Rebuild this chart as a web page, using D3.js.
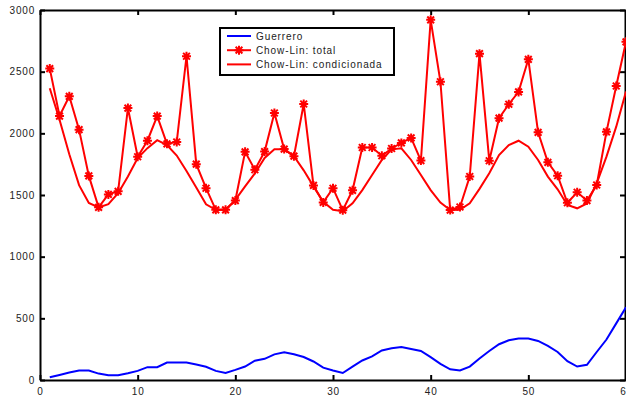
<!DOCTYPE html>
<html>
<head>
<meta charset="utf-8">
<script src="https://cdn.jsdelivr.net/npm/d3@7"></script>
<style>
  html, body { margin: 0; padding: 0; background: #fff; }
  text { font-family: "Liberation Sans", Arial, sans-serif; }
</style>
</head>
<body>
<figure id="chart" style="margin:0"></figure>
<script>
// periods 1..60
const periods = d3.range(1, 61);

const guerrero = [22, 41, 60, 77, 77, 52, 38, 38, 55, 74,
  104, 104, 142, 142, 142, 126, 107, 74, 57, 82,
  109, 156, 172, 208, 224, 208, 186, 150, 100, 77,
  57, 109, 158, 191, 240, 257, 268, 251, 235, 186,
  131, 87, 77, 109, 175, 235, 290, 322, 336, 336,
  317, 276, 227, 153, 109, 123, 227, 328, 459, 590];

const chowLinTotal = [2525, 2140, 2300, 2030, 1655, 1400, 1505, 1530, 2205, 1810,
  1940, 2140, 1915, 1930, 2625, 1750, 1555, 1380, 1380, 1455,
  1850, 1705, 1852, 2165, 1872, 1815, 2238, 1578, 1440, 1555,
  1377, 1538, 1885, 1885, 1818, 1877, 1922, 1963, 1779, 2920,
  2418, 1378, 1403, 1650, 2646, 1778, 2123, 2236, 2336, 2600,
  2008, 1765, 1656, 1437, 1522, 1455, 1581, 2012, 2384, 2742];

const chowLinCond = [2365, 2110, 1830, 1580, 1435, 1400, 1425, 1515, 1650, 1800,
  1880, 1945, 1905, 1820, 1695, 1560, 1425, 1380, 1380, 1460,
  1570, 1675, 1800, 1870, 1870, 1815, 1700, 1570, 1445, 1380,
  1368, 1432, 1540, 1662, 1784, 1870, 1878, 1784, 1662, 1540,
  1438, 1378, 1380, 1432, 1550, 1676, 1824, 1905, 1940, 1892,
  1784, 1649, 1546, 1419, 1392, 1432, 1595, 1811, 2054, 2340];

const xTicks = [0, 10, 20, 30, 40, 50, 60];
const yTicks = [0, 500, 1000, 1500, 2000, 2500, 3000];
const legendLabels = ["Guerrero", "Chow-Lin: total", "Chow-Lin: condicionada"];

const W = 626, H = 399;
const margin = {top: 10, right: 0, bottom: 19, left: 40};
const width = W - margin.left - margin.right;
const height = H - margin.top - margin.bottom;

const svg = d3.select("figure#chart")
  .append("svg")
  .attr("width", W)
  .attr("height", H)
  .append("g")
  .attr("transform", "translate(" + margin.left + "," + margin.top + ")");

const x = d3.scaleLinear().domain([0, 60]).range([0, width]);
const y = d3.scaleLinear().domain([0, 3000]).range([height, 0]);

const tickLen = 5;
const fmt = d3.format("d");

function styleAxis(g) {
  g.select(".domain").attr("stroke", "#000").attr("stroke-width", 2);
  g.selectAll(".tick line").attr("stroke", "#000").attr("stroke-width", 2);
  g.selectAll(".tick text")
    .attr("fill", "#222")
    .style("font-size", "10px")
    .style("letter-spacing", "0.8px");
}

// bottom
svg.append("g")
  .attr("transform", "translate(0," + height + ")")
  .call(d3.axisBottom(x).tickValues(xTicks).tickFormat(fmt).tickSizeInner(-tickLen).tickSizeOuter(0).tickPadding(8))
  .call(styleAxis);
// top
svg.append("g")
  .call(d3.axisTop(x).tickValues(xTicks).tickSizeInner(-tickLen).tickSizeOuter(0).tickFormat(""))
  .call(styleAxis);
// left
svg.append("g")
  .call(d3.axisLeft(y).tickValues(yTicks).tickFormat(fmt).tickSizeInner(-tickLen).tickSizeOuter(0).tickPadding(5))
  .call(styleAxis);
// right
svg.append("g")
  .attr("transform", "translate(" + (width - 1) + ",0)")
  .call(d3.axisRight(y).tickValues(yTicks).tickSizeInner(-tickLen).tickSizeOuter(0).tickFormat(""))
  .call(styleAxis);

const line = d3.line()
  .x((d, i) => x(periods[i]))
  .y(d => y(d));

svg.append("path")
  .datum(guerrero)
  .attr("fill", "none")
  .attr("stroke", "#0000ff")
  .attr("stroke-width", 2)
  .attr("d", line);

svg.append("path")
  .datum(chowLinCond)
  .attr("fill", "none")
  .attr("stroke", "#ff0000")
  .attr("stroke-width", 2)
  .attr("d", line);

svg.append("path")
  .datum(chowLinTotal)
  .attr("fill", "none")
  .attr("stroke", "#ff0000")
  .attr("stroke-width", 2)
  .attr("d", line);

// asterisk marker: plus + cross
const mr = 4.5;
const md = mr * 0.75;
const starPath = "M0," + (-mr) + "V" + mr + "M" + (-mr) + ",0H" + mr +
  "M" + (-md) + "," + (-md) + "L" + md + "," + md +
  "M" + (-md) + "," + md + "L" + md + "," + (-md);

svg.append("g")
  .selectAll("path")
  .data(chowLinTotal)
  .join("path")
  .attr("transform", (d, i) => "translate(" + x(periods[i]) + "," + y(d) + ")")
  .attr("d", starPath)
  .attr("fill", "none")
  .attr("stroke", "#ff0000")
  .attr("stroke-width", 2);

// legend
const legend = svg.append("g")
  .attr("transform", "translate(" + (220 - margin.left) + "," + (28 - margin.top) + ")");

legend.append("rect")
  .attr("width", 174)
  .attr("height", 47)
  .attr("fill", "#fff")
  .attr("stroke", "#000")
  .attr("stroke-width", 2);

const legendColors = ["#0000ff", "#ff0000", "#ff0000"];
const rows = legend.selectAll("g.row")
  .data(legendLabels)
  .join("g")
  .attr("class", "row")
  .attr("transform", (d, i) => "translate(0," + (8 + i * 14.2) + ")");

rows.append("line")
  .attr("x1", 7).attr("x2", 31)
  .attr("stroke", (d, i) => legendColors[i])
  .attr("stroke-width", 2);

rows.filter((d, i) => i === 1)
  .append("path")
  .attr("transform", "translate(19,0)")
  .attr("d", starPath)
  .attr("fill", "none")
  .attr("stroke", "#ff0000")
  .attr("stroke-width", 2);

rows.append("text")
  .attr("x", 36)
  .attr("dy", "0.35em")
  .attr("fill", "#222")
  .style("font-size", "10px")
  .style("letter-spacing", "0.9px")
  .text(d => d);
</script>
</body>
</html>
